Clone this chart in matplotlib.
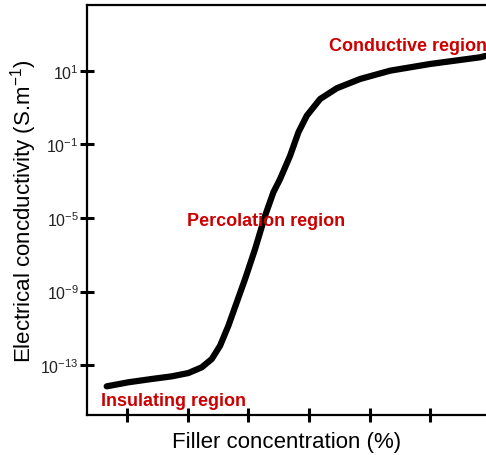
import matplotlib
matplotlib.use('Agg')
import matplotlib.pyplot as plt

plt.rcParams['font.family'] = ['Liberation Sans', 'DejaVu Sans']
plt.rcParams['mathtext.fontset'] = 'custom'
plt.rcParams['mathtext.rm'] = 'Liberation Sans'
plt.rcParams['mathtext.it'] = 'Liberation Sans'

# curve (x in tick units, y in tick-step units from 10^-13)
filler = [0.665, 1.021, 1.408, 1.738, 2.012, 2.233, 2.398, 2.535, 2.672,
          2.947, 3.112, 3.277, 3.414, 3.525, 3.690, 3.827, 3.965,
          4.185, 4.460, 4.845, 5.340, 6.000, 6.825, 6.908]
conductivity = [-0.290, -0.235, -0.190, -0.154, -0.109, -0.031, 0.082, 0.263, 0.535,
                1.170, 1.578, 2.031, 2.350, 2.531, 2.848, 3.166, 3.392,
                3.619, 3.765, 3.891, 4.004, 4.095, 4.186, 4.204]

ytick_pos = [0, 1, 2, 3, 4]
ytick_labels = ['$10^{-13}$', '$10^{-9}$', '$10^{-5}$', '$10^{-1}$', '$10^{1}$']
xtick_pos = [1, 2, 3, 4, 5, 6]

red = '#cc0000'

fig = plt.figure(figsize=(4.86, 4.56), dpi=100)
ax = fig.add_axes([0.179, 0.0877, 0.821, 0.8996])

ax.plot(filler, conductivity, color='black', lw=4.5,
        solid_capstyle='round', solid_joinstyle='round')

ax.set_xlim(0.34, 6.92)
ax.set_ylim(-0.68, 4.90)
ax.set_xticks(xtick_pos)
ax.set_xticklabels([])
ax.set_yticks(ytick_pos)
ax.set_yticklabels(ytick_labels, fontsize=11.5, color='#222222')
ax.tick_params(axis='both', direction='inout', length=10, width=2.2, color='black')
ax.tick_params(axis='y', pad=1)

for s in ['left', 'top', 'bottom', 'right']:
    ax.spines[s].set_linewidth(1.6)
ax.spines['right'].set_visible(False)

ax.set_xlabel('Filler concentration (%)', fontsize=16, labelpad=3)
ax.set_ylabel('Electrical concductivity (S.m$^{-1}$)', fontsize=16, labelpad=1)

ax.text(5.64, 4.35, 'Conductive region', color=red, fontsize=13,
        fontweight='bold', ha='center', va='center')
ax.text(3.29, 1.96, 'Percolation region', color=red, fontsize=13,
        fontweight='bold', ha='center', va='center')
ax.text(1.77, -0.48, 'Insulating region', color=red, fontsize=13,
        fontweight='bold', ha='center', va='center')

fig.savefig('out.png', dpi=100)
